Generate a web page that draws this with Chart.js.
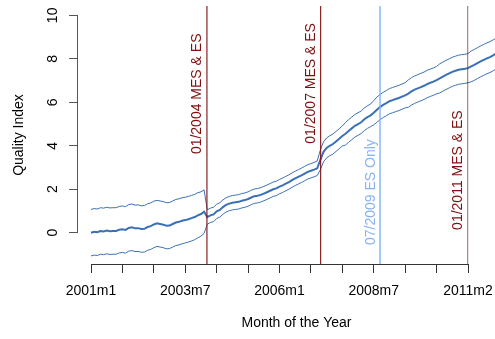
<!DOCTYPE html>
<html><head><meta charset="utf-8">
<script src="https://cdn.jsdelivr.net/npm/chart.js@4/dist/chart.umd.min.js"></script>
<style>
html,body{margin:0;padding:0;overflow:hidden;background:#fff;width:495px;height:339px}
#wrap{position:relative;width:540px;height:339px}
canvas{display:block}
</style>
</head><body><div id="wrap"><canvas id="c" width="540" height="339" style="width:540px;height:339px"></canvas></div>
<script>
// Quality index (central estimate), monthly from 2001m1
const center = [
0.00,0.04,0.02,0.08,0.06,0.10,0.07,0.08,0.08,0.14,
0.16,0.13,0.22,0.25,0.20,0.21,0.17,0.18,0.26,0.30,
0.38,0.43,0.40,0.37,0.32,0.33,0.40,0.47,0.50,0.55,
0.58,0.62,0.67,0.72,0.80,0.86,0.97,0.72,0.80,0.84,
0.98,1.05,1.18,1.28,1.34,1.38,1.40,1.42,1.47,1.50,
1.55,1.62,1.68,1.70,1.74,1.80,1.86,1.93,2.00,2.04,
2.12,2.18,2.26,2.33,2.42,2.50,2.57,2.64,2.72,2.80,
2.85,2.90,2.96,3.35,3.72,3.90,4.00,4.08,4.20,4.32,
4.45,4.55,4.68,4.80,4.92,5.00,5.08,5.22,5.32,5.40,
5.52,5.66,5.78,5.88,5.96,6.05,6.10,6.15,6.20,6.26,
6.32,6.40,6.50,6.58,6.64,6.70,6.76,6.84,6.90,6.95,
7.02,7.10,7.18,7.26,7.33,7.40,7.45,7.50,7.52,7.54,
7.57,7.65,7.72,7.80,7.88,7.95,8.02,8.08,8.16,8.25,
8.32];
const upper = [
1.07,1.11,1.09,1.15,1.13,1.17,1.14,1.15,1.15,1.21,
1.23,1.20,1.29,1.32,1.27,1.28,1.24,1.25,1.33,1.37,
1.45,1.49,1.46,1.43,1.38,1.39,1.46,1.53,1.56,1.61,
1.63,1.67,1.72,1.76,1.84,1.88,1.97,1.05,1.13,1.17,
1.31,1.38,1.51,1.61,1.67,1.71,1.73,1.75,1.80,1.83,
1.88,1.95,2.01,2.03,2.07,2.13,2.19,2.26,2.33,2.37,
2.45,2.51,2.59,2.66,2.75,2.83,2.90,2.97,3.05,3.13,
3.18,3.23,3.30,3.81,4.18,4.36,4.46,4.54,4.66,4.78,
4.91,5.07,5.20,5.32,5.44,5.52,5.60,5.74,5.84,5.92,
6.08,6.24,6.36,6.46,6.54,6.63,6.68,6.73,6.78,6.84,
6.90,7.03,7.13,7.21,7.27,7.33,7.39,7.47,7.53,7.58,
7.65,7.77,7.85,7.93,8.00,8.07,8.12,8.17,8.19,8.21,
8.24,8.36,8.43,8.51,8.59,8.66,8.73,8.79,8.87,8.96,
9.04];
const lower = [
-1.07,-1.03,-1.05,-0.99,-1.01,-0.97,-1.00,-0.99,-0.99,-0.93,
-0.91,-0.94,-0.85,-0.82,-0.87,-0.86,-0.90,-0.89,-0.81,-0.77,
-0.69,-0.63,-0.66,-0.69,-0.74,-0.73,-0.66,-0.59,-0.56,-0.51,
-0.47,-0.43,-0.38,-0.32,-0.24,-0.16,-0.03,0.39,0.47,0.51,
0.65,0.72,0.85,0.95,1.01,1.05,1.07,1.09,1.14,1.17,
1.22,1.29,1.35,1.37,1.41,1.47,1.53,1.60,1.67,1.71,
1.79,1.85,1.93,2.00,2.09,2.17,2.24,2.31,2.39,2.47,
2.52,2.57,2.63,2.89,3.26,3.44,3.54,3.62,3.74,3.86,
3.99,4.03,4.16,4.28,4.40,4.48,4.56,4.70,4.80,4.88,
4.96,5.08,5.20,5.30,5.38,5.47,5.52,5.57,5.62,5.68,
5.74,5.77,5.87,5.95,6.01,6.07,6.13,6.21,6.27,6.32,
6.39,6.43,6.51,6.59,6.66,6.73,6.78,6.83,6.85,6.87,
6.90,6.94,7.01,7.09,7.17,7.24,7.31,7.37,7.45,7.54,
7.61];

// axis ticks
const xTickValues = [0,10,20,30,40,50,60,70,80,90,100,110,120];
const xTickLabels = ['2001m1','','','2003m7','','','2006m1','','','2008m7','','','2011m2'];
const yTickValues = [0,2,4,6,8,10];
const yTickLabels = ['0','2','4','6','8','10'];

// policy events (month index from 2001m1)
const eventLabels = ['01/2004 MES & ES','01/2007 MES & ES','07/2009 ES Only','01/2011 MES & ES'];
const eventMonths = [36.9, 73.1, 92.0, 119.9];
const eventLabelY = [6.39, 6.87, 1.87, 2.88];

const FONT = '"Liberation Sans", Arial, Helvetica, sans-serif';
const BLUE = '#3a70b6';
const DARKRED = '#7d0f0f';
const LIGHTBLUE = '#86b2f4';
const eventColors = [DARKRED, DARKRED, LIGHTBLUE, DARKRED];
const eventLineColors = [DARKRED, DARKRED, LIGHTBLUE, 'rgba(125,15,15,0.6)'];

const toPts = arr => arr.map((v, i) => ({x: i, y: v}));

const decor = {
  id: 'decor',
  afterDatasetsDraw(chart) {
    const {ctx, chartArea: a, scales: {x, y}} = chart;
    ctx.save();
    // event lines + labels
    eventMonths.forEach((m, i) => {
      const px = x.getPixelForValue(m);
      ctx.strokeStyle = eventLineColors[i];
      ctx.lineWidth = i === 2 ? 1.4 : 1.1;
      ctx.beginPath(); ctx.moveTo(px, a.top); ctx.lineTo(px, a.bottom); ctx.stroke();
      const py = y.getPixelForValue(eventLabelY[i]);
      ctx.save();
      ctx.translate(px - 5.5, py);
      ctx.rotate(-Math.PI / 2);
      ctx.fillStyle = eventColors[i];
      ctx.font = '14px ' + FONT;
      ctx.textAlign = 'center'; ctx.textBaseline = 'alphabetic';
      ctx.fillText(eventLabels[i], 0, 0);
      ctx.restore();
    });
    // axis lines (R style: span first to last tick)
    ctx.lineWidth = 1;
    ctx.strokeStyle = '#333';
    const xa = x.getPixelForValue(xTickValues[0]);
    const xb = x.getPixelForValue(xTickValues[xTickValues.length - 1]);
    const yb = Math.round(a.bottom) + 0.5;
    ctx.beginPath(); ctx.moveTo(xa, yb); ctx.lineTo(xb, yb); ctx.stroke();
    ctx.strokeStyle = '#555';
    const xl = Math.round(a.left) - 0.5;
    ctx.beginPath();
    ctx.moveTo(xl, y.getPixelForValue(yTickValues[0]));
    ctx.lineTo(xl, y.getPixelForValue(yTickValues[yTickValues.length - 1]));
    ctx.stroke();
    // y tick labels (rotated, R style)
    ctx.fillStyle = '#000';
    ctx.font = '14px ' + FONT;
    yTickValues.forEach((v, i) => {
      const py = y.getPixelForValue(v);
      ctx.save(); ctx.translate(57.3, py); ctx.rotate(-Math.PI / 2);
      ctx.textAlign = 'center'; ctx.textBaseline = 'alphabetic';
      ctx.fillText(yTickLabels[i], 0, 0); ctx.restore();
    });
    // axis titles
    ctx.save(); ctx.translate(22.7, (a.top + a.bottom) / 2); ctx.rotate(-Math.PI / 2);
    ctx.textAlign = 'center'; ctx.textBaseline = 'alphabetic';
    ctx.fillText('Quality Index', 0, 0); ctx.restore();
    ctx.textAlign = 'center'; ctx.textBaseline = 'alphabetic';
    ctx.fillText('Month of the Year', (a.left + a.right) / 2, 327);
    ctx.restore();
  }
};

new Chart(document.getElementById('c'), {
  type: 'line',
  data: {
    datasets: [
      {data: toPts(upper), borderColor: BLUE, borderWidth: 1, pointRadius: 0, tension: 0, fill: false},
      {data: toPts(lower), borderColor: BLUE, borderWidth: 1, pointRadius: 0, tension: 0, fill: false},
      {data: toPts(center), borderColor: BLUE, borderWidth: 2, pointRadius: 0, tension: 0, fill: false}
    ]
  },
  options: {
    responsive: false, animation: false, devicePixelRatio: 1,
    layout: {padding: {top: 6, right: 25, left: 0, bottom: 0}},
    plugins: {legend: {display: false}, tooltip: {enabled: false}},
    scales: {
      x: {
        type: 'linear', min: -4.14, max: 134.96,
        afterBuildTicks: s => { s.ticks = xTickValues.map(v => ({value: v})); },
        afterFit: s => { s.height = 75; },
        grid: {drawOnChartArea: false, drawTicks: true, tickLength: 9, color: '#333', lineWidth: 1},
        border: {display: false},
        ticks: {autoSkip: false, maxRotation: 0, minRotation: 0, padding: 10, color: '#000',
                font: {family: FONT, size: 14}, callback: (v, i) => xTickLabels[i]}
      },
      y: {
        min: -1.44, max: 10.43,
        afterBuildTicks: s => { s.ticks = yTickValues.map(v => ({value: v})); },
        afterFit: s => { s.width = 78; },
        grid: {drawOnChartArea: false, drawTicks: true, tickLength: 9, color: '#555', lineWidth: 1},
        border: {display: false},
        ticks: {display: false}
      }
    }
  },
  plugins: [decor]
});
</script></body></html>
